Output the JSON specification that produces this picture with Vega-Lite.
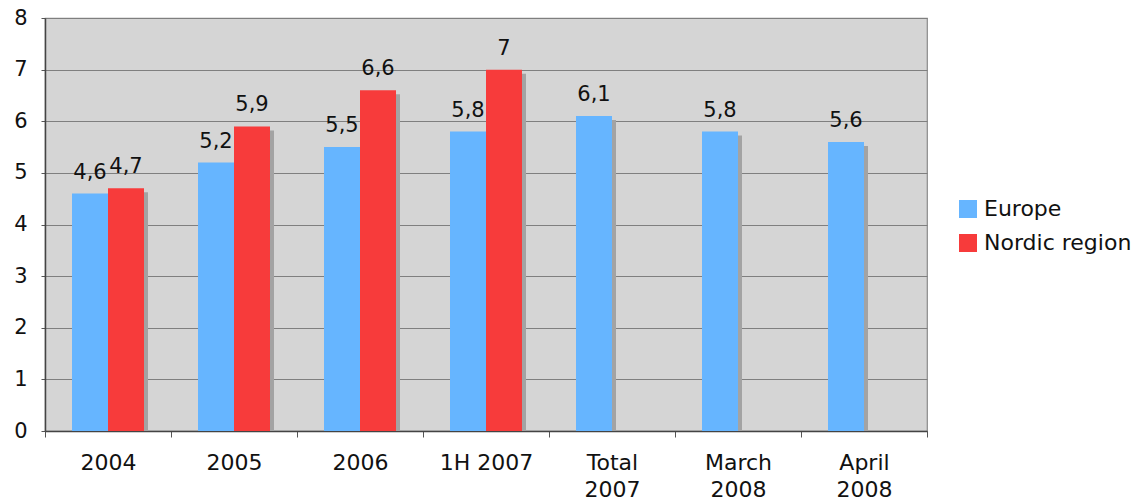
{
  "$schema": "https://vega.github.io/schema/vega-lite/v6.json",
  "width": 882,
  "height": 413,
  "autosize": {"type": "none"},
  "padding": {"left": 45, "top": 18, "right": 215, "bottom": 73},
  "background": "white",
  "config": {
    "font": "DejaVu Sans",
    "locale": {"number": {"decimal": ",", "thousands": ".", "grouping": [3], "currency": ["", " €"]}},
    "view": {"fill": "#d5d5d5", "stroke": "#8a8a8a", "strokeWidth": 1.2}
  },
  "data": {
    "values": [
      {"period": "2004", "region": "Europe", "value": 4.6},
      {"period": "2004", "region": "Nordic region", "value": 4.7},
      {"period": "2005", "region": "Europe", "value": 5.2},
      {"period": "2005", "region": "Nordic region", "value": 5.9},
      {"period": "2006", "region": "Europe", "value": 5.5},
      {"period": "2006", "region": "Nordic region", "value": 6.6},
      {"period": "1H 2007", "region": "Europe", "value": 5.8},
      {"period": "1H 2007", "region": "Nordic region", "value": 7},
      {"period": "Total 2007", "region": "Europe", "value": 6.1},
      {"period": "March 2008", "region": "Europe", "value": 5.8},
      {"period": "April 2008", "region": "Europe", "value": 5.6}
    ]
  },
  "encoding": {
    "x": {
      "field": "period",
      "type": "nominal",
      "sort": ["2004", "2005", "2006", "1H 2007", "Total 2007", "March 2008", "April 2008"],
      "scale": {"paddingInner": 0, "paddingOuter": 0},
      "axis": {
        "title": null,
        "labelAngle": 0,
        "labelFontSize": 22,
        "labelColor": "#111",
        "labelPadding": 15,
        "labelLineHeight": 27,
        "labelExpr": "datum.label == '1H 2007' ? datum.label : split(datum.label, ' ')",
        "tickBand": "extent",
        "tickSize": 6,
        "tickColor": "#555",
        "domainColor": "#444",
        "domainWidth": 1.5,
        "grid": false
      }
    },
    "y": {
      "field": "value",
      "type": "quantitative",
      "scale": {"domain": [0, 8], "nice": false},
      "axis": {
        "title": null,
        "values": [0, 1, 2, 3, 4, 5, 6, 7, 8],
        "labelFontSize": 21,
        "labelColor": "#111",
        "labelPadding": 14,
        "tickSize": 4,
        "tickColor": "#555",
        "domainColor": "#444",
        "domainWidth": 1.5,
        "gridColor": "#7f7f7f",
        "gridWidth": 1.2
      }
    }
  },
  "resolve": {"scale": {"xOffset": "independent"}},
  "layer": [
    {
      "mark": {"type": "bar", "color": "#a3a3a3", "yOffset": 4, "clip": true},
      "encoding": {
        "xOffset": {
          "field": "region",
          "type": "nominal",
          "scale": {"domain": ["Europe", "Nordic region"], "range": [4, 130], "paddingInner": 0, "paddingOuter": 0.75}
        }
      }
    },
    {
      "encoding": {
        "xOffset": {
          "field": "region",
          "type": "nominal",
          "scale": {"domain": ["Europe", "Nordic region"], "paddingInner": 0, "paddingOuter": 0.75}
        }
      },
      "layer": [
        {
          "mark": {"type": "bar"},
          "encoding": {
            "color": {
              "field": "region",
              "type": "nominal",
              "scale": {"domain": ["Europe", "Nordic region"], "range": ["#66b5ff", "#f73b3b"]},
              "legend": {
                "title": null,
                "orient": "none",
                "legendX": 912,
                "legendY": 180,
                "symbolType": "square",
                "symbolSize": 324,
                "symbolStrokeWidth": 0,
                "labelFontSize": 22,
                "labelColor": "#111",
                "labelOffset": 5,
                "rowPadding": 12
              }
            }
          }
        },
        {
          "mark": {"type": "text", "baseline": "alphabetic", "dy": -15, "fontSize": 21, "color": "#111"},
          "encoding": {
            "text": {"field": "value", "type": "quantitative", "format": ".2~r"}
          }
        }
      ]
    }
  ]
}
